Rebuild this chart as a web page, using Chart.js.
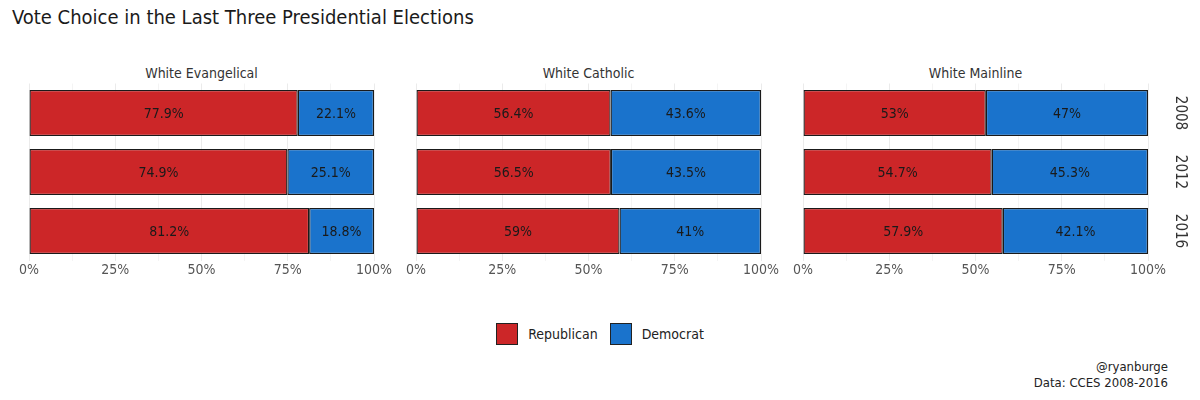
<!DOCTYPE html>
<html>
<head>
<meta charset="utf-8">
<script src="https://cdn.jsdelivr.net/npm/chart.js@4"></script>
<style>
  html, body { margin:0; padding:0; background:#fff; }
  body { width:1200px; height:400px; position:relative; overflow:hidden;
         font-family:"Liberation Sans Narrow","DejaVu Sans Condensed","Roboto",sans-serif; color:#222; }
  #title { position:absolute; left:12px; top:5px; font-size:20px; color:#1a1a1a; white-space:nowrap; }
  .facet { position:absolute; top:65px; width:345px; text-align:center; font-size:14px; color:#333; }
  canvas { position:absolute; }
  #legend { position:absolute; top:323px; left:0; width:1200px; display:flex; justify-content:center; align-items:center; font-size:14px; color:#222; }
  .key { width:22px; height:22px; border:1.5px solid #222; box-sizing:border-box; display:inline-block; margin-right:10px; }
  .item { display:flex; align-items:center; margin:0 6px; }
  #caption { position:absolute; right:32px; top:359px; text-align:right; font-size:13px; line-height:16px; color:#222; }
</style>
</head>
<body>
<div id="title">Vote Choice in the Last Three Presidential Elections</div>
<div class="facet" style="left:29px">White Evangelical</div>
<div class="facet" style="left:416px">White Catholic</div>
<div class="facet" style="left:803px">White Mainline</div>
<canvas id="c0"></canvas>
<canvas id="c1"></canvas>
<canvas id="c2"></canvas>
<div id="legend">
  <div class="item"><span class="key" style="background:#cc2628"></span>Republican</div>
  <div class="item"><span class="key" style="background:#1a73cc"></span>Democrat</div>
</div>
<div id="caption">@ryanburge<br>Data: CCES 2008-2016</div>
<script>
const years = ['2008', '2012', '2016'];
const xTicks = [0, 25, 50, 75, 100];
const evangelicalRep = [77.9, 74.9, 81.2];
const evangelicalDem = [22.1, 25.1, 18.8];
const catholicRep = [56.4, 56.5, 59];
const catholicDem = [43.6, 43.5, 41];
const mainlineRep = [53, 54.7, 57.9];
const mainlineDem = [47, 45.3, 42.1];

const RED = '#cc2628', BLUE = '#1a73cc', EDGE = '#1a1a1a';
const FONT = '"Liberation Sans Narrow","DejaVu Sans Condensed","Roboto",sans-serif';

const valueLabels = {
  id: 'valueLabels',
  afterDatasetsDraw(chart) {
    const ctx = chart.ctx;
    ctx.save();
    ctx.font = '14px ' + FONT;
    ctx.fillStyle = '#1a1a1a';
    ctx.textAlign = 'center';
    ctx.textBaseline = 'middle';
    chart.data.datasets.forEach((ds, di) => {
      const meta = chart.getDatasetMeta(di);
      meta.data.forEach((el, i) => {
        const v = ds.data[i];
        ctx.fillText(v + '%', (el.x + el.base) / 2, el.y + 1);
      });
    });
    ctx.restore();
  }
};

const yearLabels = {
  id: 'yearLabels',
  afterDraw(chart, args, opts) {
    if (!opts.show) return;
    const ctx = chart.ctx;
    const ys = chart.scales.y;
    ctx.save();
    ctx.font = '15px ' + FONT;
    ctx.fillStyle = '#333';
    ctx.textAlign = 'center';
    ctx.textBaseline = 'middle';
    years.forEach((yr, i) => {
      ctx.save();
      ctx.translate(chart.chartArea.right + 32, ys.getPixelForValue(i));
      ctx.rotate(Math.PI / 2);
      ctx.fillText(yr, 0, 0);
      ctx.restore();
    });
    ctx.restore();
  }
};

function makeChart(id, areaLeft, rep, dem, showYears) {
  const cv = document.getElementById(id);
  const padR = showYears ? 65 : 20;
  const w = 345 + 20 + padR, h = 220;
  cv.width = w; cv.height = h;
  cv.style.left = (areaLeft - 20) + 'px';
  cv.style.top = '60px';
  cv.style.width = w + 'px'; cv.style.height = h + 'px';
  new Chart(cv, {
    type: 'bar',
    data: {
      labels: years,
      datasets: [
        { label: 'Republican', data: rep, backgroundColor: RED, borderColor: EDGE, borderWidth: 1.3, borderSkipped: false, categoryPercentage: 1, barPercentage: 0.78 },
        { label: 'Democrat', data: dem, backgroundColor: BLUE, borderColor: EDGE, borderWidth: 1.3, borderSkipped: false, categoryPercentage: 1, barPercentage: 0.78 }
      ]
    },
    options: {
      indexAxis: 'y',
      responsive: false,
      animation: false,
      devicePixelRatio: 1,
      layout: { padding: { left: 20, right: padR, top: 23.5, bottom: 0 } },
      plugins: { legend: { display: false }, tooltip: { enabled: false }, yearLabels: { show: showYears } },
      scales: {
        x: {
          stacked: true, min: 0, max: 100,
          border: { display: false },
          grid: { drawTicks: false, color: (c) => (c.tick && c.tick.value % 25 === 0) ? '#ebebeb' : '#f4f4f4', lineWidth: 1 },
          ticks: {
            stepSize: 12.5, autoSkip: false, maxRotation: 0, padding: 1,
            color: '#555', font: { family: FONT, size: 14 },
            callback: (v) => xTicks.includes(v) ? v + '%' : ''
          },
          afterFit: (s) => { s.height = 19.5; }
        },
        y: { stacked: true, display: false }
      }
    },
    plugins: [valueLabels, yearLabels]
  });
}

makeChart('c0', 29, evangelicalRep, evangelicalDem, false);
makeChart('c1', 416, catholicRep, catholicDem, false);
makeChart('c2', 803, mainlineRep, mainlineDem, true);
</script>
</body>
</html>
